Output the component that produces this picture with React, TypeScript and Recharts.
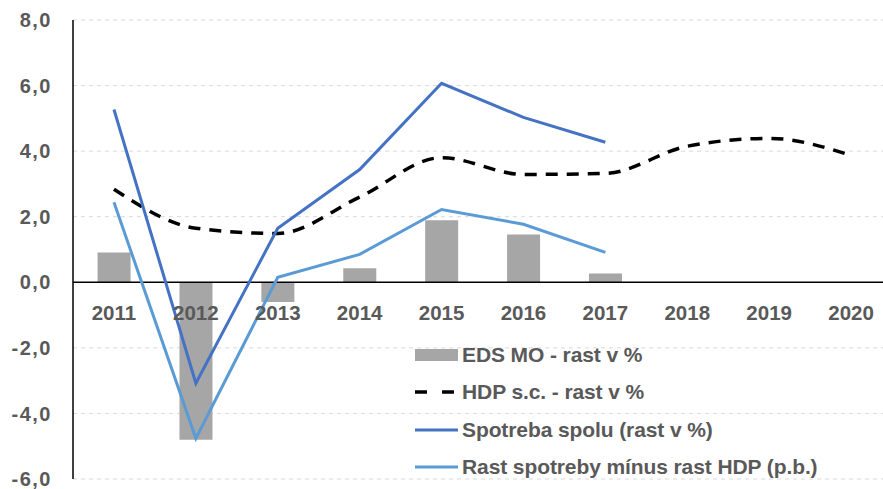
import { Bar, CartesianGrid, ComposedChart, Line, ReferenceLine, XAxis, YAxis } from "recharts";

const years = ["2011", "2012", "2013", "2014", "2015", "2016", "2017", "2018", "2019", "2020"];
const edsMo = [0.91, -4.8, -0.6, 0.43, 1.89, 1.46, 0.27, null, null, null];
const hdp = [2.84, 1.65, 1.49, 2.6, 3.8, 3.29, 3.32, 4.15, 4.39, 3.87];
const spotreba = [5.27, -3.08, 1.65, 3.44, 6.07, 5.03, 4.27, null, null, null];
const rastRozdiel = [2.44, -4.76, 0.15, 0.85, 2.22, 1.77, 0.91, null, null, null];
const yTicks = [-6, -4, -2, 0, 2, 4, 6, 8];

const data = years.map((year, i) => ({
  year,
  eds: edsMo[i],
  hdp: hdp[i],
  spotreba: spotreba[i],
  rast: rastRozdiel[i],
}));

const textColor = "#595959";
const font = "'Liberation Sans', Arial, sans-serif";

const top = 20;
const plotHeight = 459;
const xAxisHeight = 10;
const zeroY = top + (plotHeight * 8) / 14;

const legendItems = [
  { name: "EDS MO - rast v %", kind: "bar", color: "#a6a6a6" },
  { name: "HDP s.c. - rast v %", kind: "dash", color: "#000000" },
  { name: "Spotreba spolu (rast v %)", kind: "line", color: "#4472c4" },
  { name: "Rast spotreby mínus rast HDP (p.b.)", kind: "line", color: "#5b9bd5" },
];

function LegendBox() {
  return (
    <div style={{ position: "absolute", left: 415, top: 336, width: 468 }}>
      {legendItems.map((item) => (
        <div key={item.name} style={{ display: "flex", alignItems: "center", height: 37.5 }}>
          <svg width={47} height={16}>
            {item.kind === "bar" && <rect x={0} y={2} width={43} height={12} fill={item.color} />}
            {item.kind === "dash" && (
              <line x1={0} y1={8} x2={43} y2={8} stroke={item.color} strokeWidth={3.5} strokeDasharray="12 15" />
            )}
            {item.kind === "line" && <line x1={0} y1={8} x2={43} y2={8} stroke={item.color} strokeWidth={3} />}
          </svg>
          <span
            style={{
              fontFamily: font,
              fontWeight: 700,
              fontSize: 21,
              color: textColor,
              letterSpacing: -0.1,
              lineHeight: "24px",
              whiteSpace: "nowrap",
            }}
          >
            {item.name}
          </span>
        </div>
      ))}
    </div>
  );
}

function YearTick(props: any) {
  const { x, payload } = props;
  return (
    <text
      x={x}
      y={zeroY + 30}
      textAnchor="middle"
      dominantBaseline="central"
      fill={textColor}
      fontFamily={font}
      fontWeight={700}
      fontSize={20.5}
    >
      {payload.value}
    </text>
  );
}

export default function App() {
  return (
    <div style={{ position: "absolute", left: 0, top: 0, width: 883, height: 489, overflow: "hidden", background: "#fff" }}>
      <ComposedChart
        width={892}
        height={489}
        data={data}
        margin={{ top: top, right: 0, bottom: 0, left: 0 }}
        barCategoryGap="30%"
      >
        <CartesianGrid vertical={false} stroke="#d9d9d9" strokeDasharray="4 4" />
        <XAxis
          dataKey="year"
          height={xAxisHeight}
          axisLine={false}
          tickLine={false}
          tick={<YearTick />}
          interval={0}
        />
        <YAxis
          width={73}
          domain={[-6, 8]}
          ticks={yTicks}
          interval={0}
          axisLine={{ stroke: "#000", strokeWidth: 1.5 }}
          tickLine={false}
          tickSize={0}
          tickMargin={21}
          tickFormatter={(v: number) => v.toFixed(1).replace(".", ",")}
          tick={{ fill: textColor, fontFamily: font, fontWeight: 700, fontSize: 20, letterSpacing: 1.5 }}
        />
        <ReferenceLine y={0} stroke="#000" strokeWidth={1.5} />
        <Bar dataKey="eds" fill="#a6a6a6" isAnimationActive={false} />
        <Line
          dataKey="hdp"
          type="monotone"
          stroke="#000"
          strokeWidth={3.5}
          strokeDasharray="12 9"
          dot={false}
          isAnimationActive={false}
        />
        <Line dataKey="spotreba" type="linear" stroke="#4472c4" strokeWidth={3} dot={false} isAnimationActive={false} />
        <Line dataKey="rast" type="linear" stroke="#5b9bd5" strokeWidth={3} dot={false} isAnimationActive={false} />
      </ComposedChart>
      <LegendBox />
    </div>
  );
}
